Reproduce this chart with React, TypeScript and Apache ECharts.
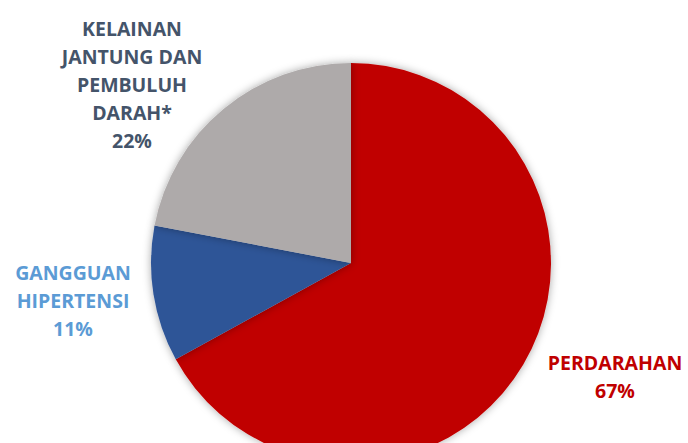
import React, { useEffect, useRef } from "react";
import * as echarts from "echarts";

const categories = ["PERDARAHAN", "GANGGUAN\nHIPERTENSI", "KELAINAN\nJANTUNG DAN\nPEMBULUH\nDARAH*"];
const values = [67, 11, 22];
const sliceColors = ["#C00000", "#2F5597", "#AEAAAA"];
const labelColors = ["#C00000", "#5B9BD5", "#44546A"];
const labelCenters = [
  [615, 376],
  [73, 300],
  [132, 84],
];

export default function App() {
  const ref = useRef<HTMLDivElement>(null);
  useEffect(() => {
    if (!ref.current) return;
    const chart = echarts.init(ref.current, undefined, { renderer: "svg" });
    chart.setOption({
      animation: false,
      backgroundColor: "#ffffff",
      series: [
        {
          type: "pie",
          center: [351, 263],
          radius: [0, 200],
          startAngle: 90,
          clockwise: true,
          avoidLabelOverlap: false,
          itemStyle: {
            shadowBlur: 8,
            shadowColor: "rgba(0,0,0,0.35)",
            shadowOffsetX: 0,
            shadowOffsetY: 0,
          },
          label: {
            show: true,
            position: "outside",
            formatter: "{b}\n{c}%",
            fontFamily: "Open Sans",
            fontWeight: "bold",
            fontSize: 19.5,
            lineHeight: 28,
            align: "center",
          },
          labelLine: { show: false },
          labelLayout: (p: any) => ({
            x: labelCenters[p.dataIndex][0],
            y: labelCenters[p.dataIndex][1],
            align: "center",
            verticalAlign: "middle",
          }),
          data: categories.map((c, i) => ({
            name: c,
            value: values[i],
            itemStyle: { color: sliceColors[i] },
            label: { color: labelColors[i] },
          })),
        },
      ],
    });
    return () => chart.dispose();
  }, []);
  return (
    <div
      ref={ref}
      style={{ position: "absolute", left: 0, top: 0, width: 688, height: 443 }}
    />
  );
}
